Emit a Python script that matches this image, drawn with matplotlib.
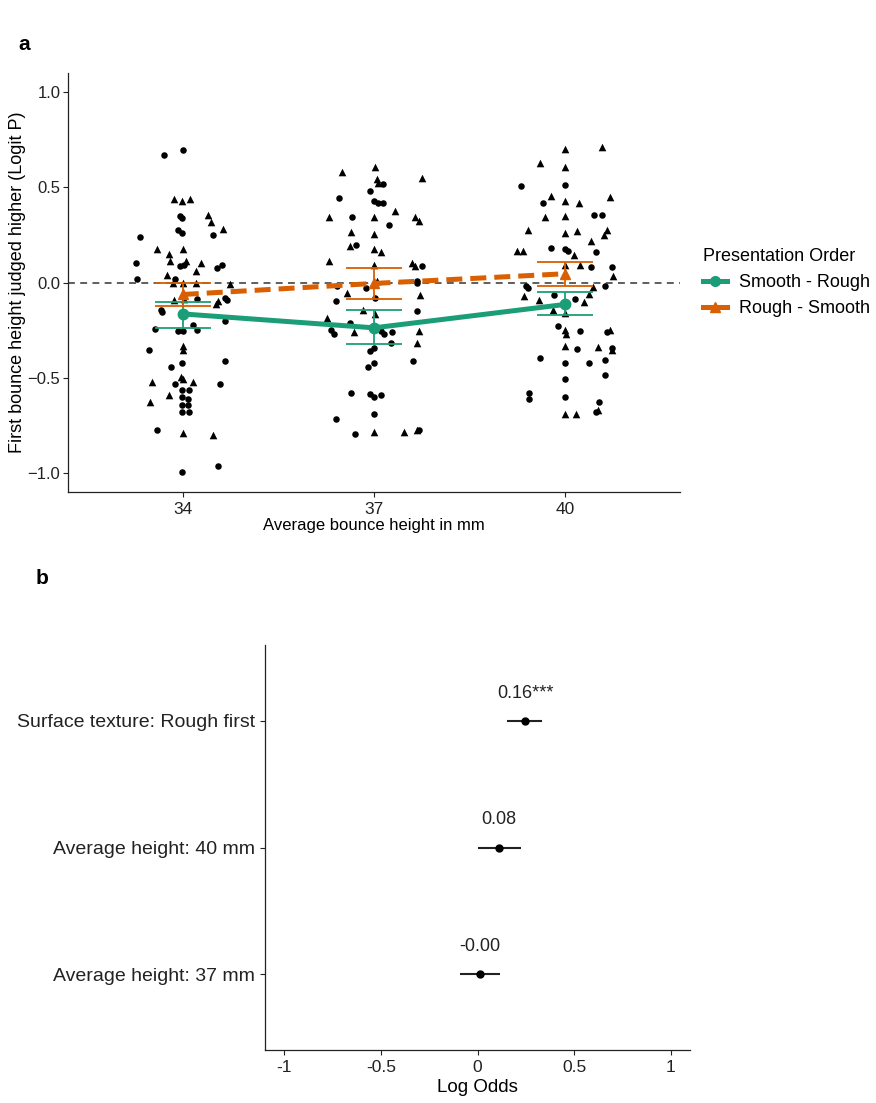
import matplotlib
matplotlib.use("Agg")
import matplotlib.pyplot as plt
from matplotlib.lines import Line2D

plt.rcParams["font.family"] = ["Liberation Sans", "DejaVu Sans"]

GREEN = "#1b9e77"
ORANGE = "#d95f02"

# ---- panel a: jittered trial points (x, y) ----
c34_x = [33.70, 34.00, 33.95, 33.99, 34.47, 33.93, 33.99, 33.33, 33.96, 34.02, 33.27, 34.54, 34.62,
         33.29, 33.88, 34.67, 34.69, 34.22, 33.66, 33.68, 34.66, 33.93, 34.01, 34.16, 34.22, 33.57,
         33.47, 34.67, 33.99, 33.81, 33.88, 34.59, 33.99, 34.10, 33.99, 34.08, 33.99, 34.09, 33.99,
         34.10, 33.60, 34.56, 33.99]
c34_y = [0.667, 0.695, 0.348, 0.337, 0.248, 0.278, 0.261, 0.240, 0.089, 0.094, 0.100, 0.077, 0.091,
         0.016, 0.019, -0.080, -0.093, -0.089, -0.145, -0.154, -0.203, -0.256, -0.256, -0.224, -0.247,
         -0.243, -0.352, -0.411, -0.422, -0.443, -0.535, -0.532, -0.565, -0.565, -0.600, -0.614,
         -0.644, -0.644, -0.679, -0.679, -0.772, -0.961, -0.994]
t34_x = [33.86, 33.99, 34.12, 34.40, 34.45, 34.63, 33.60, 33.78, 34.00, 33.80, 34.05, 34.29, 34.20,
         33.76, 33.85, 34.00, 34.20, 34.74, 34.56, 34.52, 33.86, 34.02, 34.00, 34.00, 33.98, 34.01,
         34.16, 33.51, 33.78, 33.49, 34.00, 34.48]
t34_y = [0.440, 0.430, 0.440, 0.352, 0.317, 0.282, 0.177, 0.152, 0.177, 0.112, 0.112, 0.100, 0.058,
         0.042, -0.003, -0.003, -0.003, -0.008, -0.098, -0.115, -0.093, -0.089, -0.331, -0.352,
         -0.495, -0.506, -0.523, -0.523, -0.593, -0.628, -0.789, -0.803]

c37_x = [37.14, 36.93, 36.45, 37.00, 37.07, 37.14, 36.66, 37.24, 36.71, 37.75, 37.67, 36.42, 36.87,
         37.67, 36.41, 37.02, 37.67, 36.63, 36.32, 36.37, 37.11, 37.16, 37.28, 37.26, 36.94, 37.00,
         37.00, 36.91, 37.61, 36.64, 36.93, 37.00, 37.11, 37.00, 36.41, 36.70, 37.71]
c37_y = [0.518, 0.483, 0.444, 0.427, 0.418, 0.418, 0.343, 0.304, 0.196, 0.086, 0.010, -0.016, -0.028,
         0.000, -0.098, -0.084, -0.150, -0.215, -0.250, -0.268, -0.256, -0.268, -0.261, -0.317, -0.360,
         -0.343, -0.422, -0.445, -0.410, -0.579, -0.588, -0.600, -0.592, -0.693, -0.716, -0.794, -0.772]
t37_x = [36.50, 37.02, 37.76, 37.05, 37.07, 37.33, 36.29, 37.00, 37.65, 37.70, 36.64, 37.00, 36.63,
         37.00, 37.11, 36.29, 37.00, 37.60, 37.64, 37.05, 36.58, 37.72, 36.82, 37.02, 36.26, 36.68,
         37.71, 37.67, 37.00, 37.47, 37.67]
t37_y = [0.581, 0.605, 0.550, 0.541, 0.523, 0.374, 0.343, 0.343, 0.343, 0.322, 0.266, 0.255, 0.190,
         0.177, 0.159, 0.115, 0.094, 0.103, 0.086, 0.010, -0.054, -0.068, -0.142, -0.164, -0.186,
         -0.259, -0.256, -0.320, -0.786, -0.786, -0.775]

c40_x = [39.31, 40.00, 39.65, 40.45, 40.57, 39.78, 40.00, 40.04, 40.49, 40.41, 40.74, 39.39, 39.41,
         40.62, 39.83, 40.15, 39.89, 40.23, 40.66, 40.18, 40.74, 39.61, 40.00, 40.38, 40.63, 40.62,
         40.00, 39.43, 39.43, 40.00, 40.53, 40.48]
c40_y = [0.506, 0.511, 0.418, 0.357, 0.352, 0.182, 0.175, 0.168, 0.161, 0.080, 0.080, -0.019, -0.028,
         -0.016, -0.068, -0.089, -0.226, -0.256, -0.260, -0.348, -0.343, -0.395, -0.422, -0.422,
         -0.408, -0.488, -0.509, -0.579, -0.611, -0.602, -0.628, -0.680]
t40_x = [40.00, 40.57, 39.60, 40.00, 39.78, 40.00, 40.22, 40.70, 39.69, 40.00, 39.41, 40.00, 40.19,
         40.65, 40.60, 40.41, 39.24, 39.34, 40.13, 40.00, 40.23, 40.75, 40.43, 39.36, 39.59, 40.30,
         40.38, 39.81, 40.00, 40.00, 40.01, 40.70, 40.00, 40.52, 40.74, 39.99, 40.17, 40.51]
t40_y = [0.703, 0.712, 0.628, 0.607, 0.453, 0.427, 0.418, 0.448, 0.343, 0.348, 0.278, 0.261, 0.269,
         0.278, 0.252, 0.220, 0.164, 0.168, 0.147, 0.091, 0.091, 0.033, -0.023, -0.072, -0.093, -0.103,
         -0.063, -0.145, -0.159, -0.247, -0.269, -0.247, -0.334, -0.338, -0.352, -0.693, -0.693, -0.670]

# ---- panel a: condition means with error bars ----
heights = [34, 37, 40]
sr_mean = [-0.165, -0.238, -0.115]
sr_lo = [-0.241, -0.325, -0.173]
sr_hi = [-0.101, -0.142, -0.051]
rs_mean = [-0.063, -0.005, 0.046]
rs_lo = [-0.124, -0.086, -0.016]
rs_hi = [-0.005, 0.077, 0.107]

# ---- panel b: model coefficients ----
terms = ["Average height: 37 mm", "Average height: 40 mm", "Surface texture: Rough first"]
coef = [0.012, 0.110, 0.246]
ci_lo = [-0.093, 0.003, 0.154]
ci_hi = [0.116, 0.226, 0.336]
coef_labels = ["-0.00", "0.08", "0.16***"]

fig = plt.figure(figsize=(8.76, 11.03), dpi=100)
W, H = 876, 1103


def style_axes(ax):
    for s in ["top", "right"]:
        ax.spines[s].set_visible(False)
    for s in ["left", "bottom"]:
        ax.spines[s].set_linewidth(0.9)
        ax.spines[s].set_color("#222222")
    ax.tick_params(colors="#222222", labelcolor="#222222", labelsize=12.5, length=3.5, width=0.8)


# panel a
ax = fig.add_axes([68 / W, 1 - 492 / H, 612 / W, 419 / H])
style_axes(ax)
ax.tick_params(axis="y", labelsize=12, pad=2)
ax.axhline(0, color="#333333", lw=1.1, ls=(0, (4.5, 3.5)), zorder=1)
for cx, cy, tx, ty in [(c34_x, c34_y, t34_x, t34_y), (c37_x, c37_y, t37_x, t37_y), (c40_x, c40_y, t40_x, t40_y)]:
    ax.scatter(cx, cy, s=22, marker="o", color="black", linewidths=0, zorder=2)
    ax.scatter(tx, ty, s=30, marker="^", color="black", linewidths=0, zorder=2)

for mean, lo, hi, col, ls, mk in [(sr_mean, sr_lo, sr_hi, GREEN, "-", "o"),
                                  (rs_mean, rs_lo, rs_hi, ORANGE, (0, (3.2, 1.6)), "^")]:
    yerr = [[m - l for m, l in zip(mean, lo)], [h - m for m, h in zip(mean, hi)]]
    ax.errorbar(heights, mean, yerr=yerr, fmt="none", ecolor=col, elinewidth=1.3,
                capsize=20.5, capthick=1.3, zorder=3)
    ax.plot(heights, mean, color=col, lw=3.6, ls=ls, marker=mk, ms=7.5, zorder=4)

ax.set_xlim(32.2, 41.8)
ax.set_ylim(-1.1, 1.1)
ax.set_xticks(heights)
ax.set_yticks([-1.0, -0.5, 0.0, 0.5, 1.0])
ax.set_yticklabels(["\u22121.0", "\u22120.5", "0.0", "0.5", "1.0"])
ax.set_xlabel("Average bounce height in mm", fontsize=12, labelpad=1)
ax.set_ylabel("First bounce height judged higher (Logit P)", fontsize=13)
ax.yaxis.set_label_coords(-0.068, 0.5)

handles = [Line2D([], [], color=GREEN, lw=3.6, marker="o", ms=7),
           Line2D([], [], color=ORANGE, lw=3.6, marker="^", ms=7)]
leg = ax.legend(handles, ["Smooth - Rough", "Rough - Smooth"], title="Presentation Order",
                loc="upper left", bbox_to_anchor=(696 / W, 1 - 241 / H), bbox_transform=fig.transFigure,
                frameon=False, fontsize=13, title_fontsize=13, handlelength=1.3,
                handletextpad=0.7, labelspacing=0.5, borderaxespad=0)
leg._legend_box.align = "left"

fig.text(18 / W, 1 - 45 / H, "a", fontsize=15, fontweight="bold", va="center")

# panel b
bx = fig.add_axes([265 / W, 1 - 1050 / H, 425 / W, 405 / H])
style_axes(bx)
rows = [1, 2, 3]
bx.hlines(rows, ci_lo, ci_hi, color="#222222", lw=1.5)
bx.plot(coef, rows, "o", color="black", ms=5)
for r, c, lab in zip(rows, coef, coef_labels):
    bx.text(c, r + 0.22, lab, ha="center", va="center", fontsize=13, color="#222222")
bx.set_xlim(-1.1, 1.1)
bx.set_ylim(0.4, 3.6)
bx.set_yticks(rows)
bx.set_yticklabels(terms, fontsize=14)
bx.set_xticks([-1, -0.5, 0, 0.5, 1])
bx.set_xticklabels(["-1", "-0.5", "0", "0.5", "1"])
bx.set_xlabel("Log Odds", fontsize=13.5, labelpad=3)

fig.text(36 / W, 1 - 578 / H, "b", fontsize=15, fontweight="bold", va="center")

fig.savefig("out.png", dpi=100)
